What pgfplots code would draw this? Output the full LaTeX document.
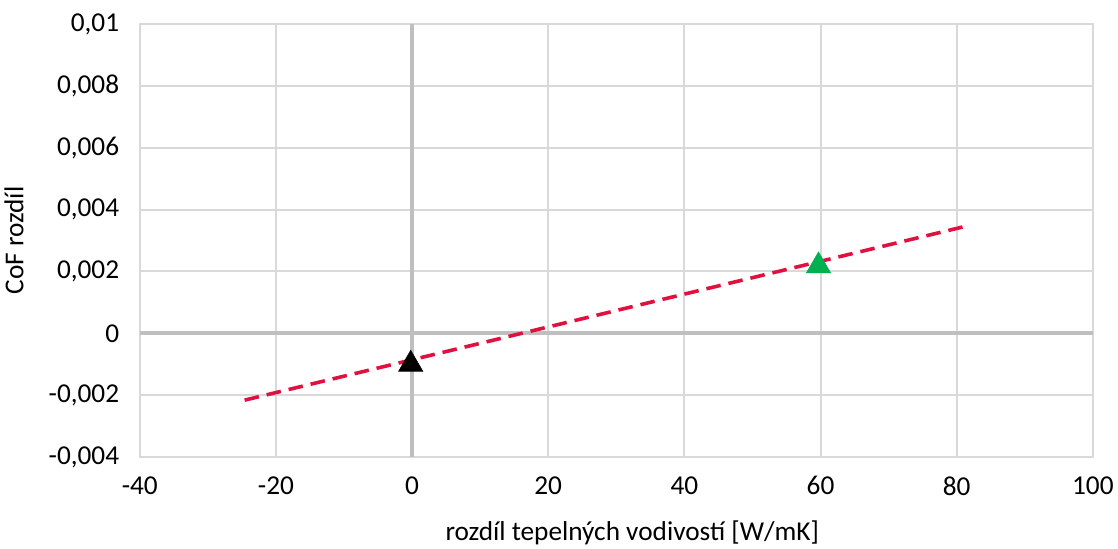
\documentclass[border=0pt]{standalone}
\usepackage{pgfplots}
\pgfplotsset{compat=1.18}
\usepackage{fontspec}
\setmainfont{Carlito}
\definecolor{gridc}{HTML}{D9D9D9}
\definecolor{zeroc}{HTML}{BFBFBF}
\definecolor{trend}{HTML}{E0103F}
\definecolor{greenpt}{HTML}{00B050}
\begin{document}
\begin{tikzpicture}
\begin{axis}[
  scale only axis,
  width=716.25pt, height=325.5pt,
  xmin=-40, xmax=100, ymin=-0.004, ymax=0.01,
  xtick={-40,-20,...,100},
  ytick={-0.004,-0.002,0,0.002,0.004,0.006,0.008,0.01},
  yticklabels={-0{,}004,-0{,}002,0,0{,}002,0{,}004,0{,}006,0{,}008,0{,}01},
  scaled y ticks=false,
  grid=major,
  major grid style={gridc, line width=1.5pt},
  axis line style={gridc, line width=1.5pt},
  tick style={draw=none},
  ticklabel style={font=\fontsize{20.5}{24}\selectfont},
  /pgf/number format/assume math mode=true,
  xticklabel style={yshift=-11pt},
  yticklabel style={xshift=-12pt},
  xlabel={rozdíl tepelných vodivostí [W/mK]},
  ylabel={CoF rozdíl},
  label style={font=\fontsize{20.5}{24}\selectfont},
  xlabel style={yshift=-12pt, xshift=12pt},
  ylabel style={yshift=12pt},
  clip=false,
]
\addplot[zeroc, line width=3pt, forget plot] coordinates {(0,-0.004) (0,0.01)};
\addplot[zeroc, line width=3pt, forget plot] coordinates {(-40,0) (100,0)};
\addplot[trend, line width=2.7pt, dash pattern=on 11pt off 6pt] coordinates {(-24.6,-0.00216) (81.7,0.00348)};
\addplot[only marks, mark=triangle*, mark size=10.5pt, black] coordinates {(-0.2,-0.001)};
\addplot[only marks, mark=triangle*, mark size=10.5pt, greenpt, mark options={draw=greenpt, fill=greenpt}] coordinates {(59.7,0.00218)};
\end{axis}
\path[use as bounding box] (-103.5pt,-66.75pt) rectangle (735pt,343.5pt);
\end{tikzpicture}
\end{document}
